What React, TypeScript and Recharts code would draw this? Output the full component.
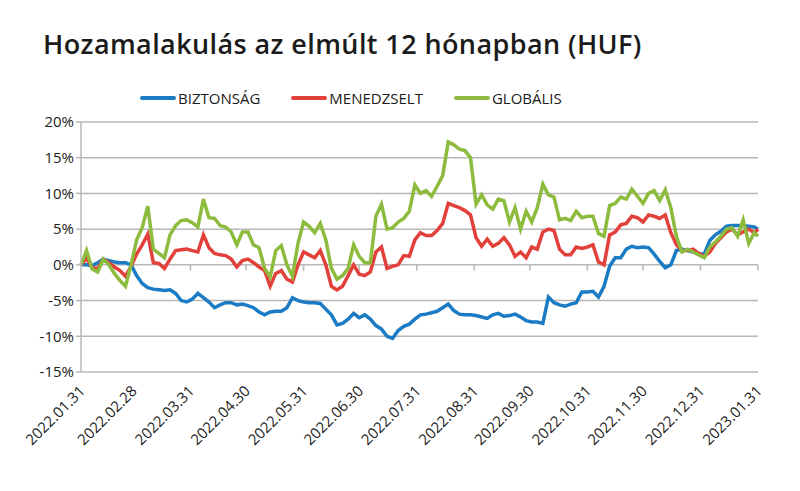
import {
  LineChart,
  Line,
  XAxis,
  YAxis,
  CartesianGrid,
  ReferenceLine,
} from "recharts";

// napok 2022.01.31 óta, 3 naponként
const days: number[] = [];
for (let d = 0; d <= 363; d += 3) days.push(d);
days.push(365);

const biztonsag = [
  0, 0, -0.1, 0.3, 0.8, 0.6, 0.4, 0.3, 0.3, 0, -1.5, -2.6, -3.2, -3.4, -3.5, -3.6, -3.5, -4.0, -5.0, -5.2,
  -4.8, -4.0, -4.6, -5.2, -6.0, -5.6, -5.3, -5.3, -5.6, -5.5, -5.7, -6.0, -6.6, -7.0, -6.6, -6.5, -6.5, -6.0, -4.6, -5.0,
  -5.2, -5.3, -5.3, -5.4, -6.2, -7.0, -8.4, -8.2, -7.6, -6.8, -7.4, -7.0, -7.6, -8.5, -9.0, -10.0, -10.3, -9.2, -8.6, -8.3,
  -7.6, -7.0, -6.9, -6.7, -6.5, -6.0, -5.5, -6.4, -6.9, -7.0, -7.0, -7.1, -7.3, -7.5, -7.0, -6.8, -7.2, -7.1, -6.9, -7.3,
  -7.8, -8.0, -8.0, -8.2, -4.5, -5.3, -5.6, -5.8, -5.5, -5.3, -3.8, -3.8, -3.7, -4.5, -3.0, -0.2, 1.0, 1.0, 2.2, 2.6,
  2.4, 2.5, 2.4, 1.5, 0.5, -0.4, 0.0, 2.0, 2.2, 2.0, 1.8, 1.6, 1.5, 3.4, 4.2, 4.7, 5.4, 5.5, 5.5, 5.5,
  5.4, 5.3, 5.0,
];

const menedzselt = [
  0, 0.9, -0.4, -0.5, 0.8, 0.3, -0.3, -0.8, -1.6, -0.2, 1.5, 2.8, 4.3, 0.3, 0.2, -0.5, 0.8, 2.0, 2.1, 2.2,
  2.0, 1.8, 4.2, 2.4, 1.6, 1.4, 1.3, 0.8, -0.3, 0.6, 0.8, 0.3, -0.3, -0.8, -3.0, -1.2, -0.8, -2.0, -2.4, 0.0,
  1.8, 1.4, 1.0, 2.0, 0.0, -3.0, -3.5, -3.0, -1.5, 0.0, -1.3, -1.5, -1.0, 1.8, 2.5, -0.5, -0.2, 0.0, 1.3, 1.2,
  3.5, 4.5, 4.1, 4.1, 4.8, 5.8, 8.6, 8.3, 8.0, 7.6, 7.0, 3.8, 2.6, 3.6, 2.6, 3.0, 3.8, 2.8, 1.2, 1.8,
  1.0, 2.5, 2.2, 4.6, 5.0, 4.8, 2.2, 1.4, 1.4, 2.5, 2.3, 2.5, 2.8, 0.4, 0.0, 4.2, 4.6, 5.6, 5.8, 6.8,
  6.6, 6.0, 7.0, 6.8, 6.5, 7.0, 4.5, 2.8, 2.0, 2.0, 2.2, 1.6, 1.2, 1.8, 3.0, 3.8, 4.6, 5.0, 4.2, 4.6,
  5.0, 4.5, 5.0,
];

const globalis = [
  0, 2.0, -0.6, -1.0, 0.8, 0.0, -1.2, -2.2, -3.0, 0.0, 3.5, 5.2, 8.2, 2.2, 1.6, 1.0, 4.2, 5.5, 6.2, 6.3,
  5.9, 5.3, 9.2, 6.6, 6.5, 5.5, 5.3, 4.6, 2.8, 4.6, 4.6, 2.8, 2.4, -0.5, -1.7, 2.0, 2.7, 0.0, -1.6, 3.0,
  6.0, 5.4, 4.5, 5.8, 3.5, -0.5, -2.0, -1.5, -0.5, 2.8, 1.2, 0.3, 0.3, 6.8, 8.5, 5.0, 5.2, 6.0, 6.5, 7.5,
  11.2, 10.0, 10.4, 9.6, 11.0, 12.5, 17.2, 16.8, 16.2, 16.0, 15.0, 8.5, 9.8, 8.4, 7.8, 9.2, 9.0, 6.0, 8.0, 5.0,
  7.5, 6.0, 8.0, 11.3, 9.8, 9.5, 6.3, 6.5, 6.2, 7.5, 6.6, 6.8, 6.8, 4.4, 4.0, 8.3, 8.6, 9.5, 9.2, 10.6,
  9.6, 8.6, 10.0, 10.4, 9.0, 10.5, 8.0, 4.0, 1.8, 2.2, 1.8, 1.4, 1.0, 2.5, 3.2, 4.0, 5.0, 5.2, 4.0, 6.3,
  3.0, 4.5, 4.0,
];

const tickDays = [0, 28, 59, 89, 120, 150, 181, 212, 242, 273, 303, 334, 365];
const tickLabels = [
  "2022.01.31", "2022.02.28", "2022.03.31", "2022.04.30", "2022.05.31", "2022.06.30",
  "2022.07.31", "2022.08.31", "2022.09.30", "2022.10.31", "2022.11.30", "2022.12.31", "2023.01.31",
];
const yTicks = [-15, -10, -5, 0, 5, 10, 15, 20];

const series = [
  { key: "biztonsag", name: "BIZTONSÁG", color: "#1b7bc4" },
  { key: "menedzselt", name: "MENEDZSELT", color: "#e2403a" },
  { key: "globalis", name: "GLOBÁLIS", color: "#8dbb3e" },
];

const data = days.map((d, i) => ({
  day: d,
  biztonsag: biztonsag[i],
  menedzselt: menedzselt[i],
  globalis: globalis[i],
}));

const labelFont = "'Open Sans', sans-serif";

function DateTick(props: any) {
  const { x, y, payload } = props;
  const label = tickLabels[tickDays.indexOf(payload.value)];
  return (
    <text
      x={x + 5}
      y={y + 12}
      textAnchor="end"
      fontSize={15}
      fontFamily={labelFont}
      fill="#222"
      transform={`rotate(-45, ${x + 5}, ${y + 12})`}
    >
      {label}
    </text>
  );
}

export default function App() {
  return (
    <div
      style={{
        position: "absolute",
        left: 0,
        top: 0,
        width: 800,
        height: 491,
        background: "#fff",
        overflow: "hidden",
      }}
    >
      <div
        style={{
          position: "absolute",
          left: 43,
          top: 25,
          fontFamily: "'Open Sans', sans-serif",
          fontWeight: 600,
          fontSize: 27,
          letterSpacing: 0.4,
          color: "#1b1b1b",
          whiteSpace: "nowrap",
        }}
      >
        Hozamalakulás az elmúlt 12 hónapban (HUF)
      </div>
      <div
        style={{
          position: "absolute",
          left: 140,
          top: 88,
          display: "flex",
          fontFamily: labelFont,
          fontSize: 15,
          color: "#1b1b1b",
        }}
      >
        {series.map((s, i) => (
          <div
            key={s.key}
            style={{ display: "flex", alignItems: "center", marginRight: i < 2 ? 31 : 0 }}
          >
            <span
              style={{
                display: "inline-block",
                width: 36,
                height: 4,
                borderRadius: 2,
                background: s.color,
                marginRight: 2,
              }}
            />
            <span>{s.name}</span>
          </div>
        ))}
      </div>
      <div style={{ position: "absolute", left: 0, top: 0 }}>
        <LineChart
          width={800}
          height={491}
          data={data}
          margin={{ top: 122, right: 42, bottom: 39, left: 21 }}
        >
          <CartesianGrid vertical={false} stroke="#b8b8b8" strokeWidth={1.5} />
          <XAxis
            dataKey="day"
            type="number"
            domain={[0, 365]}
            ticks={tickDays}
            interval={0}
            tick={<DateTick />}
            tickLine={false}
            axisLine={false}
            height={80}
          />
          <YAxis
            domain={[-15, 20]}
            ticks={yTicks}
            interval={0}
            width={60}
            tickFormatter={(v: number) => `${v}%`}
            tick={{ fontSize: 15, fontFamily: labelFont, fill: "#222" }}
            tickLine={{ stroke: "#b8b8b8", strokeWidth: 1.5 }}
            tickSize={5}
            axisLine={{ stroke: "#b8b8b8", strokeWidth: 1.5 }}
          />
          {tickDays.slice(1).map((d) => (
            <ReferenceLine
              key={d}
              segment={[
                { x: d, y: 0 },
                { x: d, y: -0.8 },
              ]}
              stroke="#b8b8b8"
              strokeWidth={1.5}
            />
          ))}
          {series.map((s) => (
            <Line
              key={s.key}
              dataKey={s.key}
              name={s.name}
              stroke={s.color}
              strokeWidth={3.5}
              dot={false}
              type="linear"
              isAnimationActive={false}
            />
          ))}
        </LineChart>
      </div>
    </div>
  );
}
